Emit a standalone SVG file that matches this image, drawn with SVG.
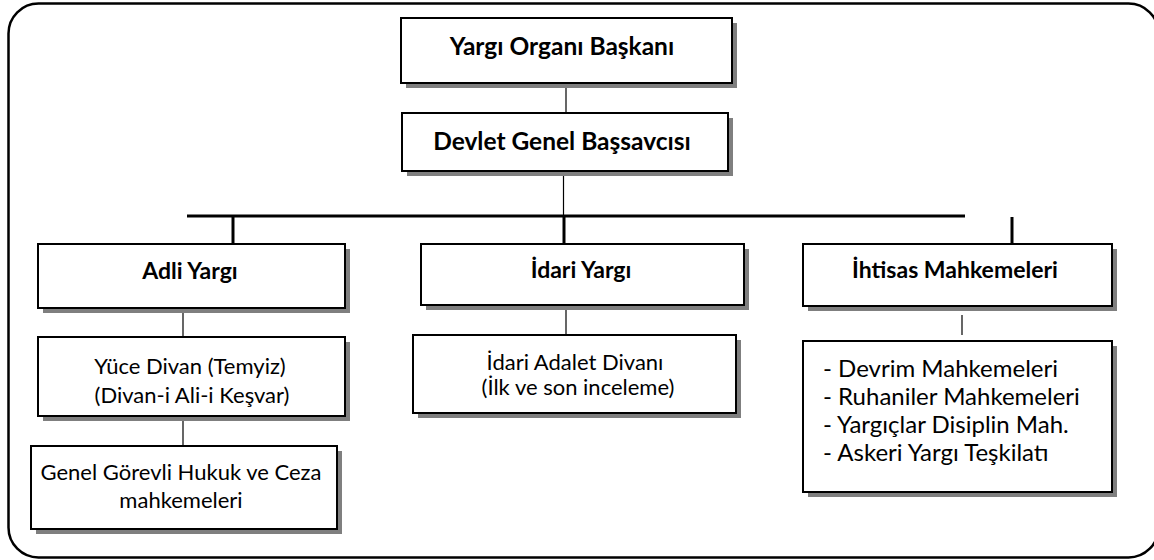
<svg xmlns="http://www.w3.org/2000/svg" width="1154" height="560" viewBox="0 0 1154 560">
<style>
.box{fill:#ffffff;stroke:#000000;stroke-width:2}
.shp{fill:none;stroke:#7f7f7f;stroke-width:5}
.t{font-family:Lato,"Open Sans","Liberation Sans",sans-serif;fill:#000}
.b{font-weight:bold;font-size:23px;text-anchor:middle}
.bt{font-size:24.5px}
.n{font-size:22px}
.l{font-size:24px}
.c{text-anchor:middle}
.thin{stroke:#000;stroke-width:1.2;fill:none}
.thick{stroke:#000;stroke-width:3;fill:none}
</style>
<rect x="8.5" y="3.5" width="1150" height="554" rx="30" ry="30" fill="#ffffff" stroke="#000000" stroke-width="2.5"/>
<g id="connectors">
<line class="thin" x1="566" y1="83" x2="566" y2="113"/>
<line class="thin" x1="563.5" y1="171" x2="563.5" y2="216"/>
<line class="thick" x1="187" y1="216" x2="965" y2="216"/>
<line class="thick" x1="233" y1="216" x2="233" y2="244"/>
<line class="thick" x1="564" y1="216" x2="564" y2="244"/>
<line class="thick" x1="1012" y1="217" x2="1012" y2="243"/>
<line class="thin" x1="183" y1="308" x2="183" y2="337"/>
<line class="thin" x1="183" y1="416" x2="183" y2="446"/>
<line class="thin" x1="566" y1="305" x2="566" y2="335"/>
<line class="thin" x1="962" y1="315" x2="962" y2="335"/>
</g>
<g id="baskan">
<path class="shp" d="M734.5 23 V85.5 H406"/>
<rect class="box" x="401" y="18" width="331" height="65"/>
<text class="t b bt" x="562" y="55">Yargı Organı Başkanı</text>
</g>
<g id="bassavci">
<path class="shp" d="M730.5 118 V173.5 H407"/>
<rect class="box" x="402" y="113" width="326" height="58"/>
<text class="t b bt" x="562" y="150">Devlet Genel Başsavcısı</text>
</g>
<g id="adli">
<path class="shp" d="M347.5 249 V310.5 H43"/>
<rect class="box" x="38" y="244" width="307" height="64"/>
<text class="t b" x="190" y="279">Adli Yargı</text>
</g>
<g id="idari">
<path class="shp" d="M746.5 249 V307.5 H426"/>
<rect class="box" x="421" y="244" width="323" height="61"/>
<text class="t b" x="581" y="278">İdari Yargı</text>
</g>
<g id="ihtisas">
<path class="shp" d="M1114.5 249 V308.5 H808"/>
<rect class="box" x="803" y="244" width="309" height="62"/>
<text class="t b" x="955" y="278">İhtisas Mahkemeleri</text>
</g>
<g id="yuce">
<path class="shp" d="M347.5 342 V418.5 H43"/>
<rect class="box" x="38" y="337" width="307" height="79"/>
<text class="t n c" x="190" y="374">Yüce Divan (Temyiz)</text>
<text class="t n c" x="192" y="403">(Divan-i Ali-i Keşvar)</text>
</g>
<g id="genel">
<path class="shp" d="M339.5 451 V531.5 H36"/>
<rect class="box" x="31" y="446" width="306" height="83"/>
<text class="t n c" x="181" y="480">Genel Görevli Hukuk ve Ceza</text>
<text class="t n c" x="181" y="508">mahkemeleri</text>
</g>
<g id="idariadalet">
<path class="shp" d="M738.5 340 V415.5 H418"/>
<rect class="box" x="413" y="335" width="323" height="78"/>
<text class="t n c" x="575" y="370">İdari Adalet Divanı</text>
<text class="t n c" x="578" y="395">(İlk ve son inceleme)</text>
</g>
<g id="liste">
<path class="shp" d="M1114.5 346 V494.5 H808"/>
<rect class="box" x="803" y="341" width="309" height="151"/>
<text class="t l" x="823" y="377">- Devrim Mahkemeleri</text>
<text class="t l" x="823" y="405">- Ruhaniler Mahkemeleri</text>
<text class="t l" x="823" y="433">- Yargıçlar Disiplin Mah.</text>
<text class="t l" x="823" y="461">- Askeri Yargı Teşkilatı</text>
</g>
</svg>
